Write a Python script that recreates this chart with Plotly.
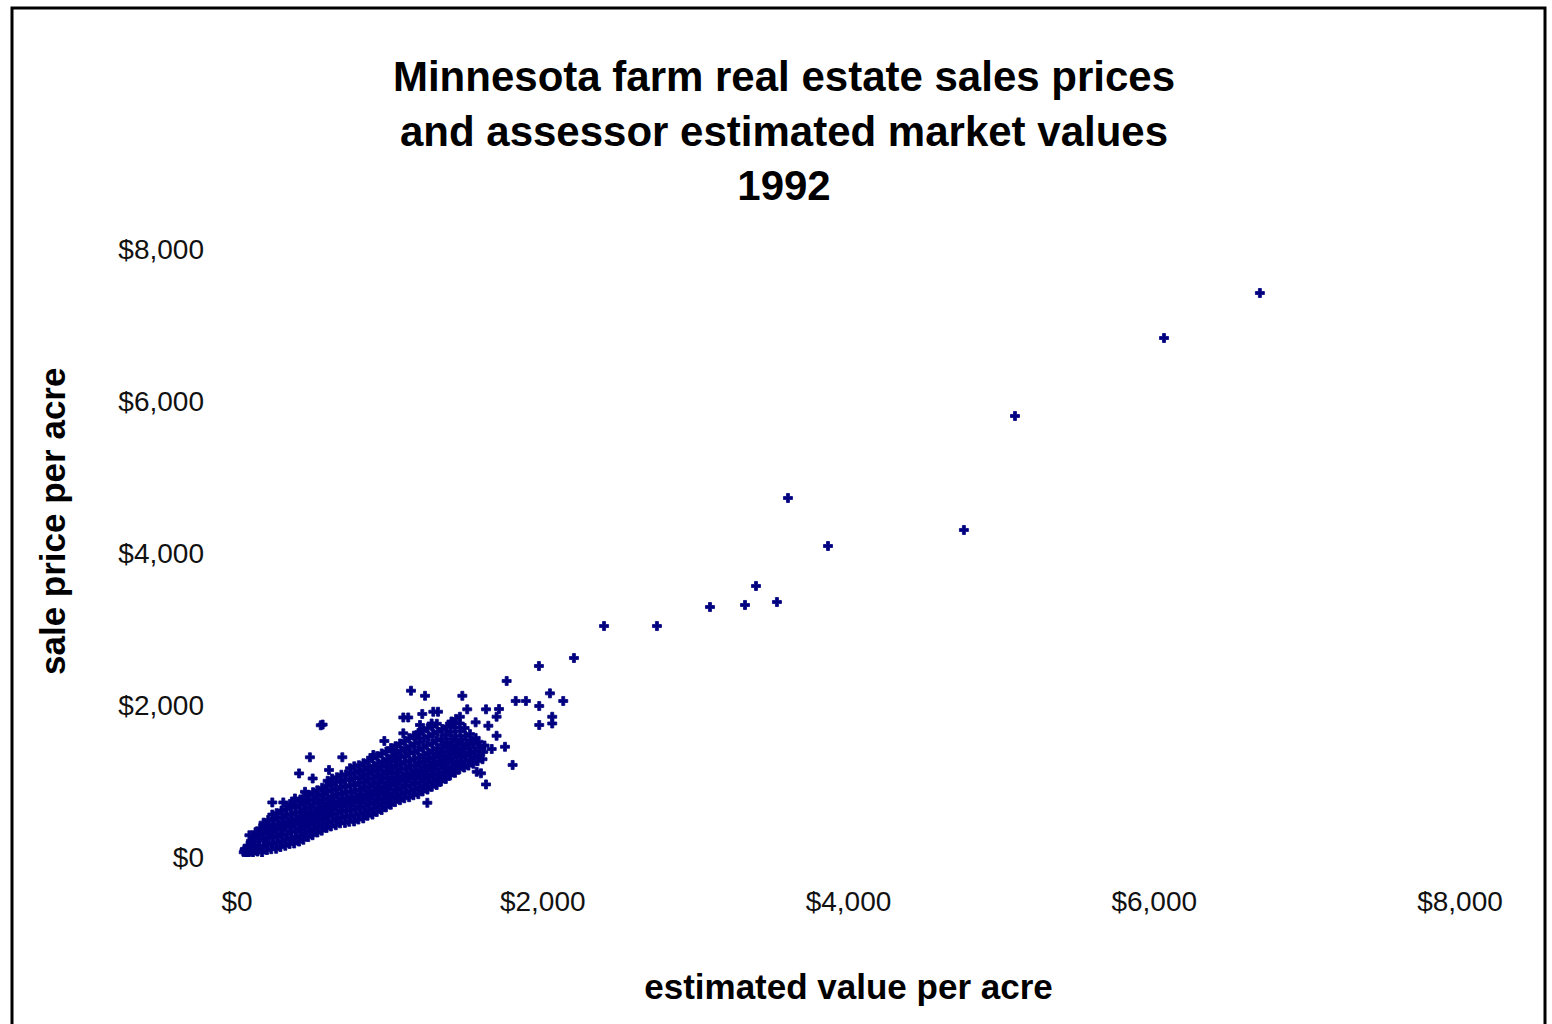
import plotly.graph_objects as go

# Axis ticks
tick_values = [0, 2000, 4000, 6000, 8000]
tick_labels = ["$0", "$2,000", "$4,000", "$6,000", "$8,000"]

# Sales with estimated value under about $600 per acre
est_low = [
    44, 53, 61, 69, 49,
    77, 86, 91, 81, 96,
    104, 113, 117, 109, 121,
    134, 143, 147, 139, 151,
    164, 173, 177, 169, 181, 174,
    196, 201, 209, 197, 211, 204,
    224, 233, 237, 229, 241, 234, 231,
    256, 261, 269, 257, 271, 264, 259,
    284, 293, 297, 289, 301, 294, 291,
    316, 321, 329, 317, 331, 324, 319,
    344, 353, 357, 349, 361, 354, 351, 346,
    374, 383, 387, 379, 391, 384, 381, 377,
    406, 411, 419, 407, 421, 414, 409, 415,
    434, 443, 447, 439, 451, 444, 441, 436,
    466, 471, 479, 467, 481, 474, 469, 465,
    494, 503, 507, 499, 511, 504, 501, 497,
    526, 531, 539, 527, 541, 534, 529, 525,
    554, 563, 567, 559, 571, 564, 561, 557,
    586, 591, 599, 587, 601, 594, 589, 585, 593,
]
sale_low = [
    62, 108, 38, 147, 92,
    52, 127, 212, 286, 83,
    47, 118, 193, 262, 327,
    72, 148, 233, 297, 378,
    58, 142, 217, 303, 377, 452,
    92, 167, 253, 328, 412, 487,
    103, 178, 262, 337, 423, 497, 558,
    108, 193, 268, 353, 428, 513, 577,
    132, 207, 293, 368, 452, 527, 612,
    147, 233, 307, 392, 468, 553, 627,
    172, 248, 333, 407, 492, 568, 653, 698,
    178, 263, 337, 423, 497, 583, 657, 732,
    203, 277, 363, 437, 523, 597, 683, 757,
    227, 313, 388, 472, 547, 633, 707, 792,
    263, 337, 423, 497, 583, 657, 743, 817,
    287, 373, 447, 533, 607, 693, 767, 853,
    323, 397, 483, 557, 643, 717, 803, 877,
    347, 433, 507, 593, 667, 753, 827, 912,
    383, 457, 543, 617, 703, 777, 863, 937, 1003,
]

# Sales with estimated value between $600 and $1,100 per acre
est_mid = [
    614, 623, 627, 619, 631, 624, 621, 617, 622,
    646, 651, 659, 647, 661, 654, 649, 645, 653,
    674, 683, 687, 679, 691, 684, 681, 677, 683,
    706, 711, 719, 707, 721, 714, 709, 705, 713,
    734, 743, 747, 739, 751, 744, 741, 737, 743, 739,
    766, 771, 779, 767, 781, 774, 769, 765, 773, 767,
    794, 803, 807, 799, 811, 804, 801, 797, 803, 797,
    826, 831, 839, 827, 841, 834, 829, 825, 833, 827,
    854, 863, 867, 859, 871, 864, 861, 857, 863, 857,
    886, 891, 899, 887, 901, 894, 889, 885, 893, 887,
    914, 923, 927, 919, 931, 924, 921, 917, 923, 917,
    946, 951, 959, 947, 961, 954, 949, 945, 953, 947,
    974, 983, 987, 979, 991, 984, 981, 977, 983, 977,
    1006, 1011, 1019, 1007, 1021, 1014, 1009, 1005, 1013, 1007,
    1034, 1043, 1047, 1039, 1051, 1044, 1041, 1037, 1043, 1037,
    1066, 1071, 1079, 1067, 1081, 1074, 1069, 1065, 1073, 1067,
]
sale_mid = [
    402, 478, 563, 637, 722, 797, 883, 957, 1032,
    418, 503, 577, 662, 737, 823, 897, 983, 1048,
    443, 517, 603, 677, 763, 837, 922, 997, 1083,
    448, 533, 607, 693, 767, 853, 927, 1013, 1087,
    463, 537, 623, 697, 783, 857, 943, 1017, 1103, 1168,
    468, 553, 627, 713, 787, 873, 947, 1033, 1107, 1193,
    493, 567, 653, 727, 813, 887, 973, 1047, 1133, 1207,
    508, 593, 667, 753, 827, 913, 987, 1073, 1147, 1233,
    543, 617, 703, 777, 863, 937, 1023, 1097, 1183, 1267,
    558, 643, 717, 803, 877, 963, 1037, 1123, 1197, 1303,
    593, 667, 753, 827, 913, 987, 1073, 1147, 1233, 1327,
    618, 703, 777, 863, 937, 1023, 1097, 1183, 1257, 1363,
    653, 727, 813, 887, 973, 1047, 1133, 1207, 1293, 1387,
    688, 773, 847, 933, 1007, 1093, 1167, 1253, 1327, 1433,
    723, 797, 883, 957, 1043, 1117, 1203, 1277, 1363, 1457,
    748, 833, 907, 993, 1067, 1153, 1227, 1313, 1397, 1493,
]

# Sales with estimated value between $1,100 and $1,650 per acre
est_high = [
    1094, 1103, 1107, 1099, 1111, 1104, 1101, 1097, 1103, 1097,
    1126, 1131, 1139, 1127, 1141, 1134, 1129, 1125, 1133, 1127,
    1154, 1163, 1167, 1159, 1171, 1164, 1161, 1157, 1163, 1157,
    1186, 1191, 1199, 1187, 1201, 1194, 1189, 1185, 1193, 1187,
    1214, 1223, 1227, 1219, 1231, 1224, 1221, 1217, 1223, 1217,
    1246, 1251, 1259, 1247, 1261, 1254, 1249, 1245, 1253, 1247,
    1274, 1283, 1287, 1279, 1291, 1284, 1281, 1277, 1283, 1277,
    1306, 1311, 1319, 1307, 1321, 1314, 1309, 1305, 1313, 1307,
    1334, 1343, 1347, 1339, 1351, 1344, 1341, 1337, 1343,
    1366, 1371, 1379, 1367, 1381, 1374, 1369, 1365, 1373,
    1394, 1403, 1407, 1399, 1411, 1404, 1401, 1397, 1403,
    1426, 1431, 1439, 1427, 1441, 1434, 1429, 1425, 1433,
    1454, 1463, 1467, 1459, 1471, 1464, 1461, 1457,
    1486, 1491, 1499, 1487, 1501, 1494, 1489,
    1514, 1523, 1527, 1519, 1531, 1524,
    1546, 1551, 1559, 1547, 1561,
    1574, 1583, 1587, 1579,
    1606, 1611, 1619,
]
sale_high = [
    773, 847, 933, 1007, 1093, 1167, 1253, 1327, 1433, 1527,
    787, 873, 947, 1033, 1107, 1193, 1267, 1363, 1457, 1563,
    813, 887, 973, 1047, 1133, 1207, 1293, 1377, 1493, 1597,
    827, 913, 987, 1073, 1147, 1233, 1307, 1403, 1517, 1633,
    863, 937, 1023, 1097, 1183, 1257, 1343, 1437, 1563, 1657,
    887, 973, 1047, 1133, 1207, 1293, 1367, 1473, 1587, 1693,
    923, 997, 1083, 1157, 1243, 1317, 1403, 1497, 1623, 1717,
    947, 1033, 1107, 1193, 1267, 1353, 1427, 1533, 1647, 1753,
    993, 1067, 1153, 1227, 1313, 1387, 1473, 1557, 1683,
    1027, 1113, 1187, 1273, 1347, 1433, 1507, 1603, 1717,
    1073, 1147, 1233, 1307, 1393, 1467, 1553, 1647, 1783,
    1107, 1193, 1267, 1353, 1427, 1513, 1597, 1703, 1817,
    1153, 1227, 1313, 1387, 1473, 1547, 1653, 1757,
    1177, 1263, 1337, 1423, 1497, 1593, 1697,
    1203, 1277, 1363, 1437, 1533, 1617,
    1227, 1313, 1387, 1483, 1567,
    1263, 1337, 1433, 1517,
    1287, 1383, 1467,
]

# Scattered sales around the main body
est_spread = [
    548, 560, 477, 689, 406, 602, 495, 445, 231, 303, 379, 161,
    964, 1138, 1230, 1474, 1245, 1629, 1596, 1803, 1753, 1666, 1698,
    1823, 1890, 1977, 2047, 2134, 1977, 2062, 2062, 1764,
    1506, 1629, 1714, 1698, 1561, 1644, 1088, 1120, 1212, 1284, 1315,
    1197, 1273, 1404, 1088, 1175, 1023, 892, 1458, 1568,
]
sale_spread = [
    1733, 1742, 1312, 1312, 1100, 1145, 1033, 858, 718, 718, 770, 368,
    1526, 2188, 2121, 2121, 713, 955, 1101, 1211, 1450, 1421, 1595,
    2053, 2053, 1987, 2153, 2053, 1737, 1845, 1757, 2316,
    1943, 1943, 1947, 1846, 1772, 1727, 1836, 1836, 1882, 1911, 1911,
    1737, 1757, 1757, 1627, 1605, 1428, 1342, 1845, 1121,
]

# High-value sales
est_top = [1975, 2204, 2401, 2747, 3094, 3323, 3395, 3532, 3604, 3866, 4755, 5089, 6064, 6691]
sale_top = [2513, 2618, 3039, 3039, 3289, 3316, 3566, 3355, 4724, 4092, 4303, 5803, 6829, 7421]

est_value = est_low + est_mid + est_high + est_spread + est_top
sale_price = sale_low + sale_mid + sale_high + sale_spread + sale_top

FONT = "Liberation Sans, Arial, sans-serif"

fig = go.Figure(
    go.Scatter(
        x=est_value,
        y=sale_price,
        mode="markers",
        marker=dict(symbol="cross", size=7.5, color="#000080",
                    line=dict(width=0.8, color="#000080")),
        showlegend=False,
    )
)

axis_common = dict(
    range=[0, 8000],
    tickvals=tick_values,
    ticktext=tick_labels,
    showgrid=False,
    zeroline=False,
    showline=False,
    ticks="",
    automargin=False,
    tickfont=dict(family=FONT, size=28, color="#111111"),
)

fig.update_layout(
    width=1552,
    height=1024,
    margin=dict(l=237, r=92, t=249, b=167),
    paper_bgcolor="white",
    plot_bgcolor="white",
    title=dict(
        text="<b>Minnesota farm real estate sales prices<br>"
             "and assessor estimated market values<br>1992</b>",
        font=dict(family=FONT, size=42, color="black"),
        x=784 / 1552,
        xref="container",
        xanchor="center",
        y=1 - 91 / 1024,
        yref="container",
        yanchor="top",
    ),
    xaxis=dict(
        **axis_common,
        ticklabelstandoff=25,
        title=dict(text="<b>estimated value per acre</b>",
                   font=dict(family=FONT, size=35, color="black"),
                   standoff=58),
    ),
    yaxis=dict(
        **axis_common,
        ticklabelstandoff=32,
    ),
    annotations=[
        dict(text="<b>sale price per acre</b>", textangle=-90,
             xref="paper", yref="paper",
             x=(52 - 237) / 1223, y=(857 - 521) / 608,
             xanchor="center", yanchor="middle", showarrow=False,
             font=dict(family=FONT, size=35, color="black")),
    ],
    shapes=[
        dict(type="rect", xref="paper", yref="paper",
             x0=(12 - 237) / 1223, x1=(1545 - 237) / 1223,
             y0=(857 - 1040) / 608, y1=(857 - 8) / 608,
             line=dict(color="black", width=3), fillcolor="rgba(0,0,0,0)",
             layer="above"),
    ],
)

fig.write_html("out.html")
